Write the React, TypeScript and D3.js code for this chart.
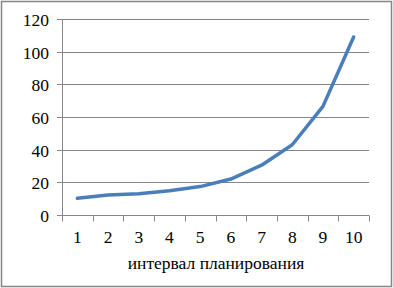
import React from 'react';
import * as d3 from 'd3';

const width = 393;
const height = 288;

const categories = ['1', '2', '3', '4', '5', '6', '7', '8', '9', '10'];
const values = [10.2, 12.2, 13, 14.8, 17.4, 22, 30.5, 43, 66.5, 109];
const yTicks = [0, 20, 40, 60, 80, 100, 120];
const xTitle = 'интервал планирования';

const grey = '#868686';
const txt = { fontFamily: 'Liberation Serif', fontSize: 17.5, fill: '#000' };

const x = d3.scaleBand().domain(categories).range([62, 369]).padding(0);
const y = d3.scaleLinear().domain([0, 120]).range([215, 19]);

const line = d3.line<number>()
  .x((d, i) => x(categories[i])! + x.bandwidth() / 2)
  .y(d => y(d));

// category boundaries for x tick marks
const bounds = categories.map(c => x(c)!).concat([x.range()[1]]);

const App = () => {
  const y0 = Math.round(y(0)) + 0.5;
  return (
    <svg width={width} height={height} style={{ position: 'absolute', left: 0, top: 0 }}>
      <rect x={1.5} y={1.5} width={width - 3} height={height - 3} fill="#fff" stroke={grey} strokeWidth={1.5} />

      {/* gridlines + y ticks */}
      {yTicks.map(t => {
        const yy = Math.round(y(t)) + 0.5;
        return (
          <g key={t}>
            {t > 0 && <line x1={62} x2={369} y1={yy} y2={yy} stroke={grey} />}
            <line x1={57} x2={62.5} y1={yy} y2={yy} stroke={grey} />
            <text x={49} y={yy} dy="0.35em" textAnchor="end" style={txt}>{t}</text>
          </g>
        );
      })}
      <line x1={62.5} x2={62.5} y1={y(120)} y2={y0} stroke={grey} />

      {/* x axis */}
      <line x1={62} x2={369} y1={y0} y2={y0} stroke={grey} />
      {bounds.map((b, i) => (
        <line key={i} x1={Math.round(b) + 0.5} x2={Math.round(b) + 0.5} y1={y0} y2={y0 + 6} stroke={grey} />
      ))}
      {categories.map(c => (
        <text key={c} x={x(c)! + x.bandwidth() / 2} y={243} textAnchor="middle" style={txt}>{c}</text>
      ))}

      <text x={216} y={269} textAnchor="middle" style={txt}>{xTitle}</text>

      <path d={line(values)!} fill="none" stroke="#4a7ebb" strokeWidth={3.5}
        strokeLinecap="round" strokeLinejoin="round" />
    </svg>
  );
};

export default App;
